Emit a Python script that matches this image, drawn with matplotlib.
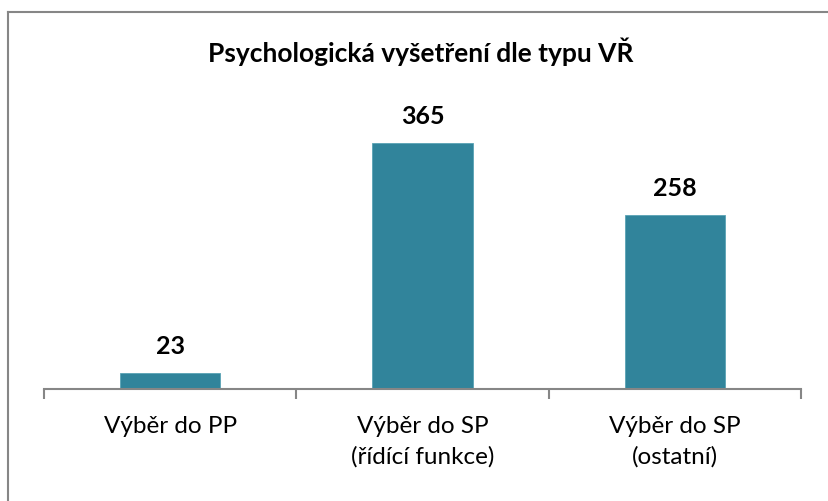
import matplotlib
matplotlib.use("Agg")
import matplotlib.pyplot as plt
from matplotlib.lines import Line2D

categories = ["Výběr do PP", "Výběr do SP\n(řídící funkce)", "Výběr do SP\n(ostatní)"]
values = [23, 365, 258]
title = "Psychologická vyšetření dle typu VŘ"

plt.rcParams['font.family'] = ['Lato', 'DejaVu Sans']
W, H = 829, 502
fig = plt.figure(figsize=(W/100, H/100), dpi=100)
# chart-area border: only top and left edges are inside the image
fig.lines.append(Line2D([8.5/W, 1.0], [1-13/H, 1-13/H], transform=fig.transFigure,
                        color='#868686', linewidth=1.5, solid_capstyle='projecting'))
fig.lines.append(Line2D([8.5/W, 8.5/W], [1-13/H, 0.0], transform=fig.transFigure,
                        color='#868686', linewidth=1.5, solid_capstyle='projecting'))
ax = fig.add_axes([44/W, 1-390/H, (801-44)/W, (390-120)/H])
x = range(len(values))
bars = ax.bar(x, values, width=0.397, color='#31849B', edgecolor='#5aa3b5', linewidth=0.6)
ax.set_xlim(-0.5, 2.5)
ax.set_ylim(0, 400)
ax.set_yticks([])
for s in ['top', 'right', 'left']:
    ax.spines[s].set_visible(False)
ax.spines['bottom'].set_color('#868686')
ax.spines['bottom'].set_linewidth(1.5)
ax.set_xticks([-0.5, 0.5, 1.5, 2.5], minor=False)
ax.set_xticklabels([])
ax.tick_params(axis='x', which='major', length=7, width=1.5, color='#868686')
ax.set_xticks(list(x), minor=True)
ax.set_xticklabels(categories, minor=True, fontsize=17.5, color='#000000', linespacing=1.5)
ax.tick_params(axis='x', which='minor', length=0, pad=19)
for b, v in zip(bars, values):
    ax.annotate(str(v), (b.get_x()+b.get_width()/2, v), xytext=(0, 14.4), textcoords='offset points',
                ha='center', va='baseline', fontsize=18, fontweight='bold')
fig.text((205+637)/2/W, 1-52/H, title, ha='center', va='center', fontsize=19, fontweight='bold')
fig.savefig("out.png", dpi=100)
